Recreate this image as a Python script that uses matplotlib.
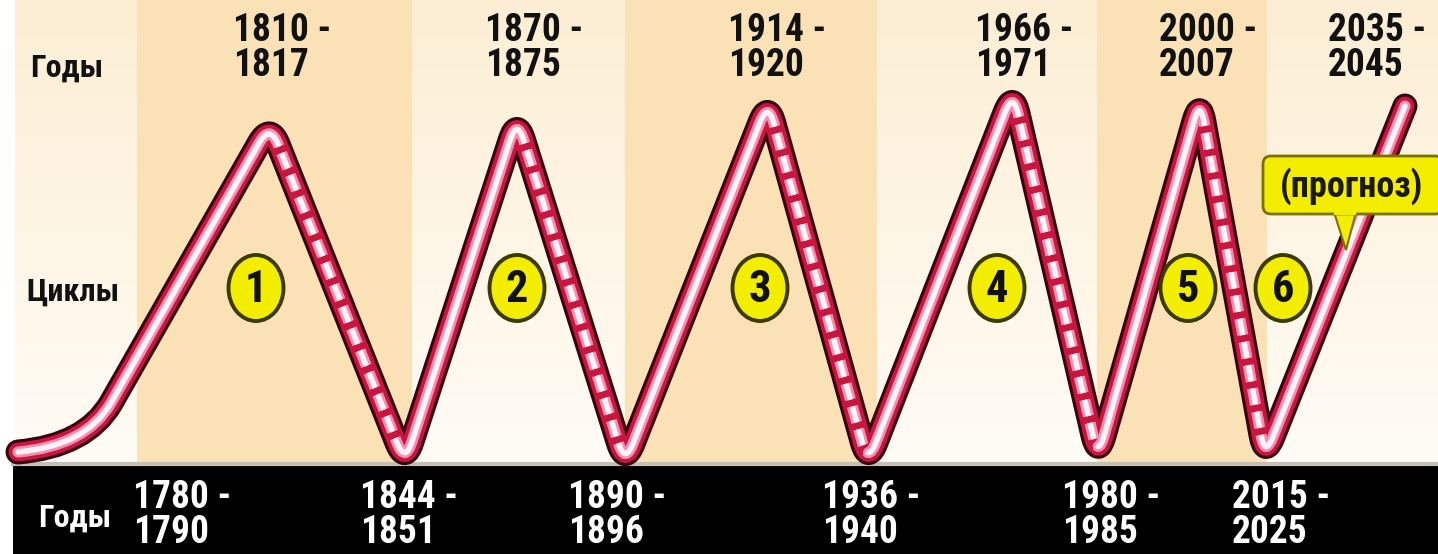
from matplotlib import pyplot as plt
from matplotlib.patches import Ellipse, FancyBboxPatch, Polygon, PathPatch
from matplotlib.path import Path
import numpy as np

# turning points of the wave (schematic position, level on the picture)
start_pt = (18, 452)
start_bend = (86, 446)          # control point of the soft start
turn_x = [111, 270, 405, 517, 625, 768, 868, 1013, 1098, 1200, 1265, 1405]
turn_y = [403, 124, 463, 119, 464, 102, 463, 92, 457, 100, 457, 106]

peak_labels = ["1810 -\n1817", "1870 -\n1875", "1914 -\n1920", "1966 -\n1971", "2000 -\n2007", "2035 -\n2045"]
peak_label_x = [233, 485, 728, 975, 1159, 1328]
trough_labels = ["1780 -\n1790", "1844 -\n1851", "1890 -\n1896", "1936 -\n1940", "1980 -\n1985", "2015 -\n2025"]
trough_label_x = [133, 360, 568, 822, 1062, 1232]

cycles = ["1", "2", "3", "4", "5", "6"]
cycle_x = [256, 517, 760, 997, 1188, 1283]

bands = [(137, 412), (625, 877), (1097, 1267)]

NARROW = ['Roboto Condensed', 'DejaVu Sans']
CORNER_R = 22
plt.rcParams['lines.scale_dashes'] = False

fig = plt.figure(figsize=(14.38, 5.54), dpi=100)
ax = fig.add_axes([0, 0, 1, 1])
ax.set_xlim(0, 1438)
ax.set_ylim(554, 0)
ax.axis('off')

# background gradient + darker bands
top = np.array([252, 238, 212]) / 255
bot = np.array([255, 252, 246]) / 255
t = np.linspace(0, 1, 200)[:, None, None]
grad = top * (1 - t) + bot * t
grad = np.repeat(grad, 2, axis=1)
ax.imshow(grad, extent=(15, 1438, 464, 0), aspect='auto', zorder=0)
for x0, x1 in bands:
    ax.fill_between([x0, x1], 0, 464, color='#fae2b6', lw=0, zorder=1)

# black bar at bottom
ax.fill_between([13, 1438], 466, 554, color='black', lw=0, zorder=2)
ax.plot([13, 1438], [464, 464], color='#c4c0b6', lw=3, zorder=2)


def stroke(verts, codes, color, lw, z, ls='solid'):
    p = PathPatch(Path(verts, codes), fill=False, edgecolor=color, lw=lw,
                  joinstyle='round', capstyle='round' if ls == 'solid' else 'butt',
                  linestyle=ls, zorder=z)
    ax.add_patch(p)


# rounded corners: each turning point becomes a short quadratic curve
pts = np.column_stack([turn_x, turn_y]).astype(float)
corners = {}
for i in range(1, len(pts) - 1):
    v = pts[i]
    u1 = (pts[i - 1] - v) / np.linalg.norm(pts[i - 1] - v)
    u2 = (pts[i + 1] - v) / np.linalg.norm(pts[i + 1] - v)
    p0, p2 = v + CORNER_R * u1, v + CORNER_R * u2
    corners[i] = (p0, v, p2, (p0 + 2 * v + p2) / 4)

# one path per arm, from the middle of one bend to the middle of the next
arms = []
for k in range(len(pts) - 1):
    if k == 0:
        v = [start_pt, start_bend, tuple(pts[0])]
        c = [Path.MOVETO, Path.CURVE3, Path.CURVE3]
    else:
        p0, cv, p2, m = corners[k]
        v = [tuple(m), tuple((cv + p2) / 2), tuple(p2)]
        c = [Path.MOVETO, Path.CURVE3, Path.CURVE3]
    if k + 1 in corners:
        p0, cv, p2, m = corners[k + 1]
        v += [tuple(p0), tuple((p0 + cv) / 2), tuple(m)]
        c += [Path.LINETO, Path.CURVE3, Path.CURVE3]
    else:
        v.append(tuple(pts[k + 1]))
        c.append(Path.LINETO)
    arms.append((v, c, pts[k + 1][1] < pts[k][1]))

full_v, full_c = [], []
for v, c, _ in arms:
    if full_v:
        v, c = v[1:], c[1:]
    full_v += v
    full_c += c
stroke(full_v, full_c, '#360310', 18, 3)
stroke(full_v, full_c, '#c8163f', 13.5, 4)

# light centre: solid on the rising arms, dashed on the falling ones
for v, c, rising in arms:
    if rising:
        stroke(v, c, '#f48fb1', 8, 5)
        stroke(v, c, '#fff3f8', 4, 6)
    else:
        stroke(v, c, '#f48fb1', 8, 5, ls=(0, (12, 5)))
        stroke(v, c, '#fff3f8', 4, 6, ls=(0, (12, 5)))

# cycle numbers
for num, cx in zip(cycles, cycle_x):
    ax.add_patch(Ellipse((cx, 288), 55, 66, fc='#f3ed00', ec='#3c3a00', lw=2.8, zorder=7))
    ax.text(cx, 290, num, ha='center', va='center', fontsize=32, fontweight='bold',
            family=NARROW, color='#111111', zorder=8)

# forecast callout
ax.add_patch(Polygon([[1334, 212], [1356, 212], [1346, 250]], closed=True,
                     fc='#f3ed00', ec='#7a7000', lw=1.5, zorder=9))
ax.add_patch(FancyBboxPatch((1263, 156), 180, 58, boxstyle='round,pad=0,rounding_size=8',
                            fc='#f3ed00', ec='#7a7000', lw=2, zorder=10))
ax.plot([1336, 1354], [213, 213], color='#f3ed00', lw=3, zorder=11)
ax.text(1352, 186, "(прогноз)", ha='center', va='center', fontsize=26, fontweight='bold',
        family=NARROW, color='#1a1a00', zorder=12)

# year labels
for lab, lx in zip(peak_labels, peak_label_x):
    ax.text(lx, 12, lab, ha='left', va='top', fontsize=27, fontweight='bold',
            family=NARROW, color='#111111', linespacing=0.92, zorder=12)
for lab, lx in zip(trough_labels, trough_label_x):
    ax.text(lx, 479, lab, ha='left', va='top', fontsize=27, fontweight='bold',
            family=NARROW, color='white', linespacing=0.92, zorder=12)

ax.text(30, 68, "Годы", ha='left', va='center', fontsize=23, fontweight='bold',
        family=NARROW, color='#111111', zorder=12)
ax.text(26, 292, "Циклы", ha='left', va='center', fontsize=23, fontweight='bold',
        family=NARROW, color='#111111', zorder=12)
ax.text(38, 518, "Годы", ha='left', va='center', fontsize=23, fontweight='bold',
        family=NARROW, color='white', zorder=12)

fig.savefig('out.png', dpi=100)
